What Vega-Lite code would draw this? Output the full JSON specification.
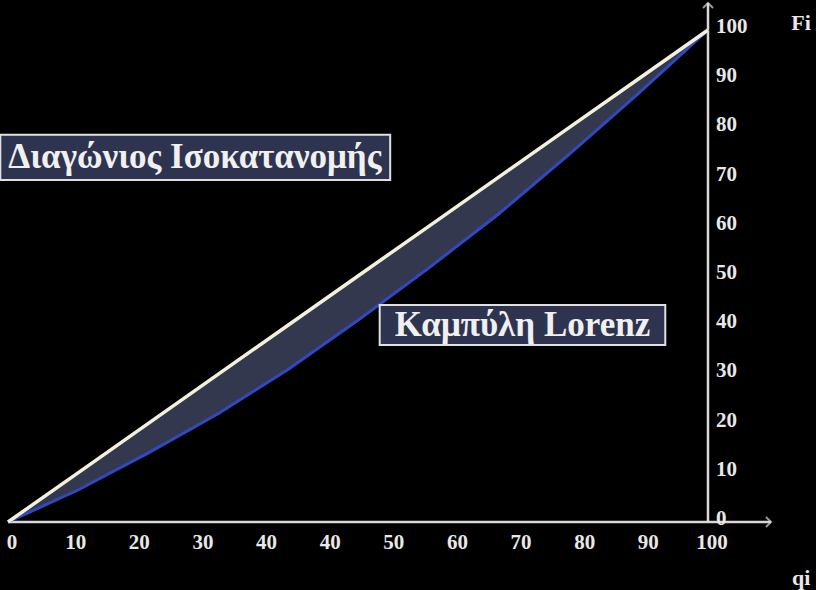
{
  "$schema": "https://vega.github.io/schema/vega-lite/v6.json",
  "width": 816,
  "height": 590,
  "autosize": {"type": "none"},
  "padding": 0,
  "background": "#000000",
  "config": {"view": {"stroke": null}, "font": "Liberation Serif"},
  "datasets": {
    "curve": [
      {"p": 0, "lorenz": 0, "equality": 0},
      {"p": 10, "lorenz": 6.5, "equality": 10},
      {"p": 20, "lorenz": 14, "equality": 20},
      {"p": 30, "lorenz": 22, "equality": 30},
      {"p": 40, "lorenz": 31, "equality": 40},
      {"p": 50, "lorenz": 41, "equality": 50},
      {"p": 60, "lorenz": 51.5, "equality": 60},
      {"p": 70, "lorenz": 62.5, "equality": 70},
      {"p": 80, "lorenz": 74.5, "equality": 80},
      {"p": 90, "lorenz": 87, "equality": 90},
      {"p": 100, "lorenz": 100, "equality": 100}
    ],
    "axes": [
      {"x": 0, "x2": 109, "y": 0, "y2": 0},
      {"x": 100, "x2": 100, "y": 0, "y2": 105.5}
    ],
    "xticks": [
      {"v": 0, "label": "0"},
      {"v": 9.09, "label": "10"},
      {"v": 18.18, "label": "20"},
      {"v": 27.27, "label": "30"},
      {"v": 36.36, "label": "40"},
      {"v": 45.45, "label": "40"},
      {"v": 54.55, "label": "50"},
      {"v": 63.64, "label": "60"},
      {"v": 72.73, "label": "70"},
      {"v": 81.82, "label": "80"},
      {"v": 90.91, "label": "90"},
      {"v": 100, "label": "100"}
    ],
    "yticks": [
      {"v": 0, "label": "0"},
      {"v": 10, "label": "10"},
      {"v": 20, "label": "20"},
      {"v": 30, "label": "30"},
      {"v": 40, "label": "40"},
      {"v": 50, "label": "50"},
      {"v": 60, "label": "60"},
      {"v": 70, "label": "70"},
      {"v": 80, "label": "80"},
      {"v": 90, "label": "90"},
      {"v": 100, "label": "100"}
    ],
    "boxes": [
      {"x": -1.1, "x2": 54.6, "y": 78.7, "y2": 69.5, "cx": 26.7, "cy": 74.1, "label": "Διαγώνιος Ισοκατανομής"},
      {"x": 53.1, "x2": 93.9, "y": 44.1, "y2": 36.0, "cx": 73.5, "cy": 40.0, "label": "Καμπύλη Lorenz"}
    ],
    "titles": [
      {"x": 113.3, "y": 101.5, "label": "Fi"},
      {"x": 113.3, "y": -11.4, "label": "qi"}
    ]
  },
  "layer": [
    {
      "data": {"name": "curve"},
      "mark": {"type": "area", "color": "#4a5070", "opacity": 0.7},
      "encoding": {
        "x": {"field": "p", "type": "quantitative", "scale": {"domain": [-1.143, 115.43], "nice": false, "zero": false}, "axis": null},
        "y": {"field": "lorenz", "type": "quantitative", "scale": {"domain": [-13.82, 106.1], "nice": false, "zero": false}, "axis": null},
        "y2": {"field": "equality"}
      }
    },
    {
      "data": {"name": "axes"},
      "mark": {"type": "rule", "color": "#d8d8d8", "strokeWidth": 2.5},
      "encoding": {
        "x": {"field": "x", "type": "quantitative"},
        "x2": {"field": "x2"},
        "y": {"field": "y", "type": "quantitative"},
        "y2": {"field": "y2"}
      }
    },
    {
      "data": {"name": "curve"},
      "mark": {"type": "line", "color": "#3048c0", "strokeWidth": 3},
      "encoding": {
        "x": {"field": "p", "type": "quantitative"},
        "y": {"field": "lorenz", "type": "quantitative"}
      }
    },
    {
      "data": {"name": "curve"},
      "mark": {"type": "line", "color": "#f4f0dc", "strokeWidth": 3.5},
      "encoding": {
        "x": {"field": "p", "type": "quantitative"},
        "y": {"field": "equality", "type": "quantitative"}
      }
    },
    {
      "data": {"values": [{"x": 109, "y": 0}]},
      "mark": {"type": "point", "shape": "M-1,-1L0,0L-1,1", "size": 100, "stroke": "#d8d8d8", "strokeWidth": 2, "filled": false},
      "encoding": {
        "x": {"field": "x", "type": "quantitative"},
        "y": {"field": "y", "type": "quantitative"}
      }
    },
    {
      "data": {"values": [{"x": 100, "y": 105.5}]},
      "mark": {"type": "point", "shape": "M-1,1L0,0L1,1", "size": 100, "stroke": "#d8d8d8", "strokeWidth": 2, "filled": false},
      "encoding": {
        "x": {"field": "x", "type": "quantitative"},
        "y": {"field": "y", "type": "quantitative"}
      }
    },
    {
      "data": {"name": "xticks"},
      "mark": {"type": "text", "color": "#e8e8e8", "fontSize": 21, "fontWeight": "bold", "dy": 21, "dx": 4, "baseline": "middle", "align": "center"},
      "encoding": {
        "x": {"field": "v", "type": "quantitative"},
        "y": {"datum": 0, "type": "quantitative"},
        "text": {"field": "label"}
      }
    },
    {
      "data": {"name": "yticks"},
      "mark": {"type": "text", "color": "#e8e8e8", "fontSize": 21, "fontWeight": "bold", "dx": 8, "dy": -3, "baseline": "middle", "align": "left"},
      "encoding": {
        "x": {"datum": 100, "type": "quantitative"},
        "y": {"field": "v", "type": "quantitative"},
        "text": {"field": "label"}
      }
    },
    {
      "data": {"name": "boxes"},
      "mark": {"type": "rect", "fill": "#2e3450", "stroke": "#e0e0e0", "strokeWidth": 2},
      "encoding": {
        "x": {"field": "x", "type": "quantitative"},
        "x2": {"field": "x2"},
        "y": {"field": "y", "type": "quantitative"},
        "y2": {"field": "y2"}
      }
    },
    {
      "data": {"name": "boxes"},
      "mark": {"type": "text", "color": "#f0f0f0", "fontSize": 35, "fontWeight": "bold", "baseline": "middle", "align": "center"},
      "encoding": {
        "x": {"field": "cx", "type": "quantitative"},
        "y": {"field": "cy", "type": "quantitative"},
        "text": {"field": "label"}
      }
    },
    {
      "data": {"name": "titles"},
      "mark": {"type": "text", "color": "#e8e8e8", "fontSize": 22, "fontWeight": "bold", "baseline": "middle", "align": "center"},
      "encoding": {
        "x": {"field": "x", "type": "quantitative"},
        "y": {"field": "y", "type": "quantitative"},
        "text": {"field": "label"}
      }
    }
  ]
}
